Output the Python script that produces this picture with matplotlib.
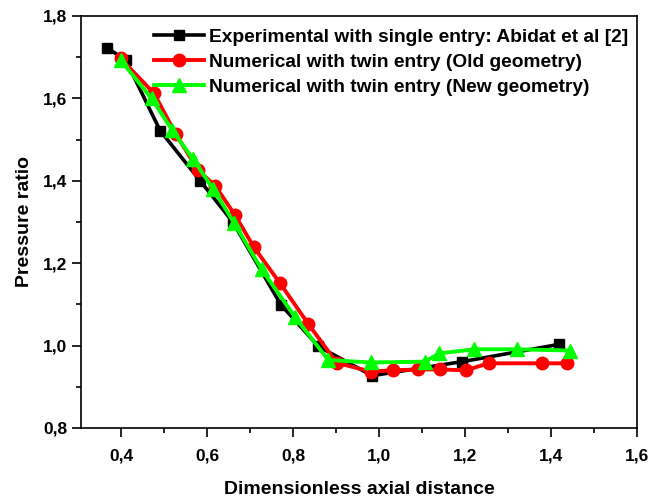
import matplotlib
matplotlib.use('Agg')
import matplotlib.pyplot as plt
from matplotlib.ticker import MultipleLocator, FuncFormatter

plt.rcParams['font.family'] = ['Liberation Sans', 'DejaVu Sans']
plt.rcParams['font.weight'] = 'bold'

# experimental, single entry (Abidat et al)
exp_x = [0.367, 0.411, 0.491, 0.584, 0.660, 0.772, 0.859, 0.984, 1.194, 1.419]
exp_y = [1.723, 1.693, 1.522, 1.400, 1.300, 1.099, 0.998, 0.927, 0.961, 1.003]

# numerical, twin entry, old geometry
old_x = [0.399, 0.477, 0.527, 0.580, 0.619, 0.665, 0.709, 0.770, 0.836, 0.902,
         0.981, 1.032, 1.091, 1.143, 1.202, 1.255, 1.378, 1.438]
old_y = [1.697, 1.612, 1.514, 1.425, 1.388, 1.317, 1.239, 1.151, 1.052, 0.958,
         0.937, 0.940, 0.942, 0.942, 0.940, 0.957, 0.957, 0.957]

# numerical, twin entry, new geometry
new_x = [0.399, 0.471, 0.519, 0.568, 0.615, 0.663, 0.727, 0.805, 0.882, 0.981,
         1.107, 1.140, 1.222, 1.320, 1.444]
new_y = [1.693, 1.600, 1.523, 1.452, 1.379, 1.298, 1.185, 1.069, 0.965, 0.959,
         0.961, 0.981, 0.991, 0.991, 0.988]

labels = ['Experimental with single entry: Abidat et al [2]',
          'Numerical with twin entry (Old geometry)',
          'Numerical with twin entry (New geometry)']

fig = plt.figure(figsize=(6.49, 4.98), dpi=100)
ax = fig.add_axes([0.1248, 0.1406, 0.8567, 0.8273])

ax.plot(exp_x, exp_y, color='black', lw=2.6, marker='s', ms=7.5, label=labels[0])
ax.plot(old_x, old_y, color='#ff0000', lw=2.8, marker='o', ms=9, label=labels[1])
ax.plot(new_x, new_y, color='#00ff00', lw=2.8, marker='^', ms=9.5, label=labels[2])

ax.set_xlim(0.307, 1.6)
ax.set_ylim(0.8, 1.8)
ax.xaxis.set_major_locator(MultipleLocator(0.2))
ax.xaxis.set_minor_locator(MultipleLocator(0.1))
ax.yaxis.set_major_locator(MultipleLocator(0.2))
ax.yaxis.set_minor_locator(MultipleLocator(0.1))
comma = FuncFormatter(lambda v, p: ('%.1f' % v).replace('.', ','))
ax.xaxis.set_major_formatter(comma)
ax.yaxis.set_major_formatter(comma)

ax.tick_params(which='both', direction='out', width=1.2, labelsize=12.5)
ax.tick_params(which='major', length=6.5)
ax.tick_params(which='minor', length=3.5)
ax.tick_params(axis='x', pad=8)
for s in ax.spines.values():
    s.set_linewidth(1.2)
for t in ax.get_xticklabels() + ax.get_yticklabels():
    t.set_fontweight('bold')

ax.set_xlabel('Dimensionless axial distance', fontsize=14, fontweight='bold', labelpad=13)
ax.set_ylabel('Pressure ratio', fontsize=14, fontweight='bold', labelpad=7)

ax.legend(loc='upper left', bbox_to_anchor=(0.1, 1.012), frameon=False,
          prop={'size': 13.8, 'weight': 'bold'}, handlelength=2.6,
          handletextpad=0.3, labelspacing=0.4)

plt.savefig('out.png', dpi=100)
